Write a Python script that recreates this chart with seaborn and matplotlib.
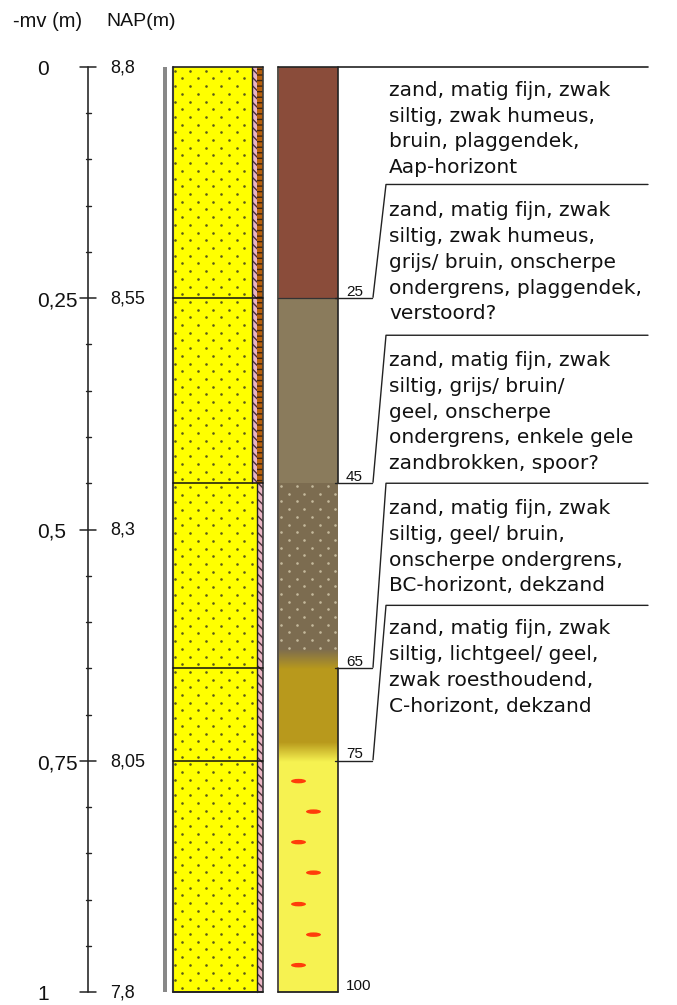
import numpy as np
import pandas as pd
import matplotlib
matplotlib.use("Agg")
import matplotlib.pyplot as plt
from matplotlib.colors import LinearSegmentedColormap
from matplotlib.patches import Ellipse
import seaborn as sns

# depths in cm below surface
layer_top = [0, 25, 45, 65, 75]
layer_base = [25, 45, 65, 75, 100]
layer_colors = ["#8a4c3a", "#8a7b5c", "#7c6c50", "#b8991c", "#f6f251"]
layer_labels = ["25", "45", "65", "75", "100"]

litho_top = [0, 25, 45, 65, 75]
litho_base = [25, 45, 65, 75, 100]

major_depth = [0, 25, 50, 75, 100]
mv_labels = ["0", "0,25", "0,5", "0,75", "1"]
nap_labels = ["8,8", "8,55", "8,3", "8,05", "7,8"]
minor_depth = [5, 10, 15, 20, 30, 35, 40, 45, 55, 60, 65, 70, 80, 85, 90, 95]

rust_depth = [77.2, 80.5, 83.8, 87.1, 90.5, 93.8, 97.1]
rust_col = [298.5, 313.5, 298.5, 313.5, 298.5, 313.5, 298.5]

descriptions = [
    "zand, matig fijn, zwak\nsiltig, zwak humeus,\nbruin, plaggendek,\nAap-horizont",
    "zand, matig fijn, zwak\nsiltig, zwak humeus,\ngrijs/ bruin, onscherpe\nondergrens, plaggendek,\nverstoord?",
    "zand, matig fijn, zwak\nsiltig, grijs/ bruin/\ngeel, onscherpe\nondergrens, enkele gele\nzandbrokken, spoor?",
    "zand, matig fijn, zwak\nsiltig, geel/ bruin,\nonscherpe ondergrens,\nBC-horizont, dekzand",
    "zand, matig fijn, zwak\nsiltig, lichtgeel/ geel,\nzwak roesthoudend,\nC-horizont, dekzand",
]
# depth where each description's header rule sits
desc_rule = [0, 12.7, 29, 45, 58.2]
desc_first = [2.5, 15.5, 31.7, 47.7, 60.7]

sns.set_theme(style="white")
plt.rcParams["hatch.linewidth"] = 1.0

fig = plt.figure(figsize=(6.77, 10.05), dpi=100)
ax = fig.add_axes([0, 0, 1, 1])
ax.axis("off")

# y is depth, x is pixel position across the sheet
px = 9.25
y_top = -67 / px
y_bot = (1005 - 67) / px
dark = "#3c3c3c"

# grey side bar
ax.bar(165, 100, width=4, bottom=0, color="#888888", linewidth=0)

# lithology column
ax.bar(212.2, 100, width=79, bottom=0, color="#ffff00", edgecolor="none", zorder=1)
ax.bar(215, 55, width=84.6, bottom=45, color="#ffff00", edgecolor="none", zorder=1)

dot_rows = np.arange(0.4, 100, 2.5 / 3 * 1.0)
dx, dy = [], []
for i, d in enumerate(dot_rows):
    start = 174 + (i % 2) * 7.7 + 0.5
    limit = 251 if d < 45 else 256.5
    for x in np.arange(start, limit, 15.5):
        dx.append(x)
        dy.append(d)
stipple = pd.DataFrame({"x": dx, "depth": dy})
sns.scatterplot(data=stipple, x="x", y="depth", ax=ax, color="#5a5a1a", s=3.5,
                linewidth=0, zorder=2, legend=False)

# pink and brown strips along the right of the column
ax.bar(254.6, 45, width=5.2, bottom=0, color="#e8b4c4", edgecolor="#4a3038",
       hatch="\\\\\\\\", linewidth=0, zorder=2)
ax.bar(260.2, 45, width=5.6, bottom=0, color="#b8600c", edgecolor="#40250c",
       hatch="---", linewidth=0, zorder=2)
ax.bar(260.2, 55, width=5.6, bottom=45, color="#e8b4c4", edgecolor="#4a3038",
       hatch="\\\\\\\\", linewidth=0, zorder=2)

# column outline and layer boundaries
ax.plot([172.8, 172.8], [0, 100], color=dark, lw=1.5, zorder=4)
ax.plot([263, 263], [0, 100], color=dark, lw=1.2, zorder=4)
ax.plot([172.8, 263], [0, 0], color="#222222", lw=1.2, zorder=4)
ax.plot([172.8, 263], [100, 100], color="#222222", lw=1.4, zorder=4)
for d in litho_base[:-1]:
    ax.plot([172.8, 263], [d, d], color="#111111", lw=1.1, zorder=4)
ax.plot([251.8, 251.8], [0, 45], color="#222222", lw=1.0, zorder=4)
ax.plot([257.3, 257.3], [45, 100], color="#222222", lw=1.0, zorder=4)

# soil colour column
heights = [b - t for t, b in zip(layer_top, layer_base)]
ax.bar([308] * 5, heights, width=59.6, bottom=layer_top, color=layer_colors,
       linewidth=0, zorder=1)


def fade(top, base, c1, c2):
    cmap = LinearSegmentedColormap.from_list("fade", [c1, c2])
    ax.imshow(np.linspace(0, 1, 64).reshape(-1, 1), cmap=cmap, aspect="auto",
              extent=(278.2, 337.8, base, top), zorder=2)


fade(63, 65.1, layer_colors[2], layer_colors[3])
fade(73, 75.1, layer_colors[3], layer_colors[4])

light_rows = np.arange(45.3, 63, 2.5 / 3 * 1.0)
lx, ly = [], []
for i, d in enumerate(light_rows):
    for x in np.arange(281 + (i % 2) * 7.7, 338, 15.5):
        lx.append(x)
        ly.append(d)
sns.scatterplot(x=lx, y=ly, ax=ax, color="#c4b99c", s=3.5, linewidth=0, zorder=3, legend=False)

for x, d in zip(rust_col, rust_depth):
    ax.add_patch(Ellipse((x, d), 15, 4.5 / px, color="#ff3c0a", linewidth=0, zorder=3))

# column edges
ax.plot([278, 278], [0, 100], color="#555048", lw=1.4, zorder=4)
ax.plot([338, 338], [0, 45], color="#222222", lw=1.2, zorder=4)
ax.plot([338, 338], [65, 100], color="#222222", lw=1.2, zorder=4)
ax.plot([278, 338], [100, 100], color="#222222", lw=1.3, zorder=4)
ax.plot([278, 338], [25, 25], color="#333333", lw=0.9, zorder=4)

# depth scale
ax.plot([88, 88], [0, 100], color=dark, lw=1.3)
for d in major_depth:
    ax.plot([80, 96], [d, d], color="#222222", lw=1.1)
for d in minor_depth:
    ax.plot([85.5, 90.5], [d, d], color="#222222", lw=1.0)

ax.text(13, -4.9, "-mv (m)", fontsize=14.5, family="Liberation Sans",
        va="center", ha="left", color="#111111")
ax.text(106, -4.9, "NAP(m)", fontsize=14, family="Liberation Sans",
        va="center", ha="left", color="#111111")
for d, m, n in zip(major_depth, mv_labels, nap_labels):
    ax.text(37, d + 0.3, m, fontsize=15, family="Liberation Sans", va="center",
            ha="left", color="#111111")
    ax.text(110, d + 0.1, n, fontsize=13, family="Liberation Sans", va="center",
            ha="left", color="#111111")

# depth labels and leader lines to the descriptions
for d, lab in zip(layer_base, layer_labels):
    ax.text(346, d - 0.7, lab, fontsize=11, family="Liberation Sans", va="center",
            ha="left", color="#111111")
for d in layer_base[:-1]:
    ax.plot([335, 372], [d, d], color="#222222", lw=1.0, zorder=5)

ax.plot([278, 648], [0, 0], color="#222222", lw=1.2, zorder=5)
for d, r in zip(layer_base[:-1], desc_rule[1:]):
    ax.plot([373, 386, 648], [d - 0.1, r, r], color="#222222", lw=1.0, zorder=5)

for first, txt in zip(desc_first, descriptions):
    for j, line in enumerate(txt.split("\n")):
        ax.text(389, first + j * 2.8, line, fontsize=14.5, family="DejaVu Sans",
                va="center", ha="left", color="#111111")

ax.set_xlim(0, 677)
ax.set_ylim(y_bot, y_top)
fig.savefig("out.png", dpi=100)
